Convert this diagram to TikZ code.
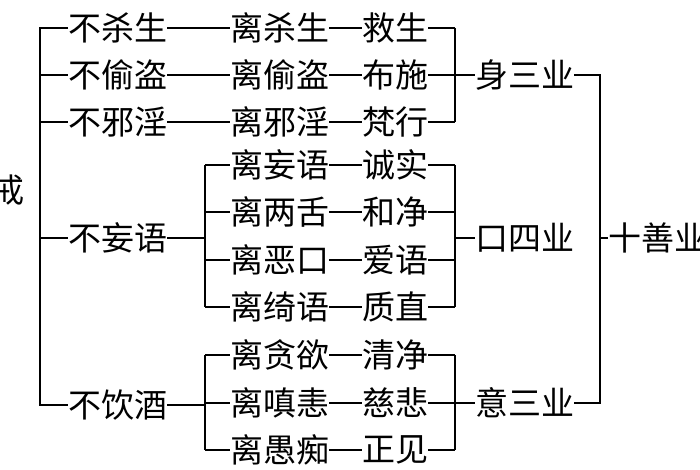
\documentclass[tikz,border=0pt]{standalone}
\usepackage{fontspec}
\newfontfamily\cjk{Noto Sans CJK SC}
\begin{document}
\begin{tikzpicture}[x=1pt,y=-1pt,
  t/.style={inner sep=0pt,anchor=west,font=\cjk\fontsize{33}{33}\selectfont},
  ln/.style={line width=1.2pt,black}]
\useasboundingbox (0,0) rectangle (700,470);
\clip (0,0) rectangle (700,470);
\node[t,anchor=center] (jie) at (8,190) {戒};
% top group
\foreach \n/\a/\b/\c/\y in {1/不杀生/离杀生/救生/28, 2/不偷盗/离偷盗/布施/75, 3/不邪淫/离邪淫/梵行/122}{
  \node[t] (A\n) at (68,\y) {\a};
  \node[t] (B\n) at (230,\y) {\b};
  \node[t] (C\n) at (362,\y) {\c};
  \draw[ln] (A\n.east) -- (B\n.west);
  \draw[ln] (B\n.east) -- (C\n.west);
  \draw[ln] (C\n.east) -- (455,\y);
}
\node[t] (A4) at (68,238) {不妄语};
\node[t] (A5) at (68,405) {不饮酒};
\foreach \n/\b/\c/\y in {4/离妄语/诚实/165, 5/离两舌/和净/212, 6/离恶口/爱语/260, 7/离绮语/质直/307, 8/离贪欲/清净/355, 9/离嗔恚/慈悲/403, 10/离愚痴/正见/450}{
  \node[t] (B\n) at (230,\y) {\b};
  \node[t] (C\n) at (362,\y) {\c};
  \draw[ln] (205,\y) -- (B\n.west);
  \draw[ln] (B\n.east) -- (C\n.west);
  \draw[ln] (C\n.east) -- (455,\y);
}
% left bracket
\draw[ln] (A1.west) -- (40,28) -- (40,405) -- (A5.west);
\draw[ln] (40,75) -- (A2.west);
\draw[ln] (40,122) -- (A3.west);
\draw[ln] (40,238) -- (A4.west);
% middle brackets
\draw[ln] (A4.east) -- (205,238);
\draw[ln] (205,165) -- (205,307);
\draw[ln] (A5.east) -- (205,405);
\draw[ln] (205,355) -- (205,450);
% right brackets
\node[t] (S1) at (475,75) {身三业};
\node[t] (S2) at (475,238) {口四业};
\node[t] (S3) at (475,403) {意三业};
\draw[ln] (455,28) -- (455,122); \draw[ln] (455,75) -- (S1.west);
\draw[ln] (455,165) -- (455,307); \draw[ln] (455,238) -- (S2.west);
\draw[ln] (455,355) -- (455,450); \draw[ln] (455,403) -- (S3.west);
\node[t] (T) at (608,238) {十善业};
\draw[ln] (S1.east) -- (600,75) -- (600,403) -- (S3.east);
\draw[ln] (600,238) -- (T.west);
\end{tikzpicture}
\end{document}
